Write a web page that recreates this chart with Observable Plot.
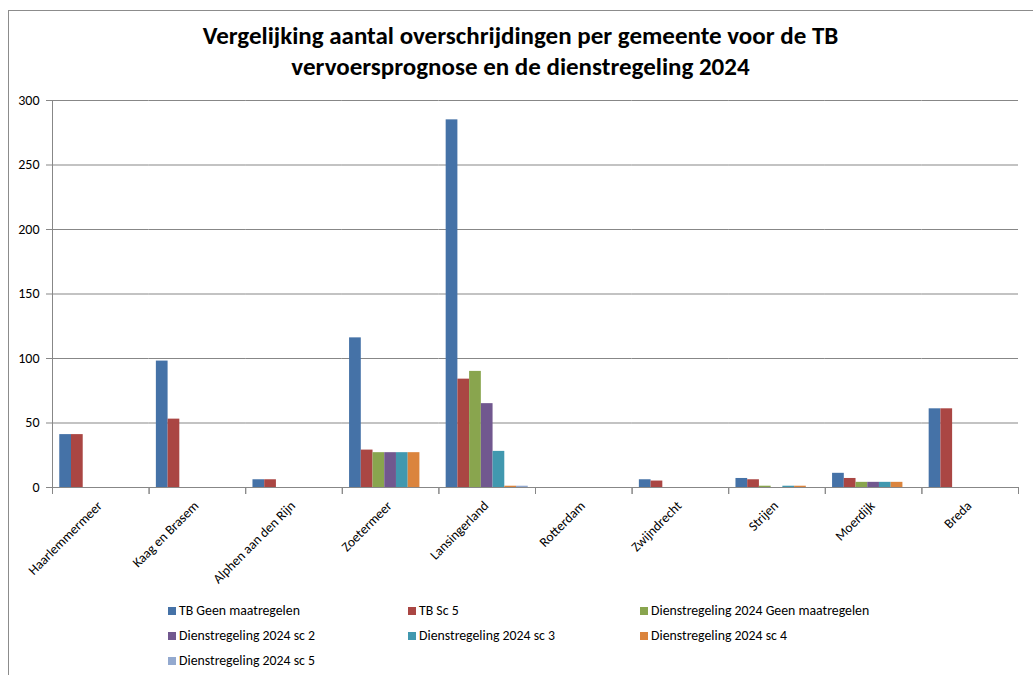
<!DOCTYPE html>
<html><head><meta charset="utf-8">
<script src="https://cdn.jsdelivr.net/npm/d3@7"></script>
<script src="https://cdn.jsdelivr.net/npm/@observablehq/plot@0.6"></script>
<style>
body{margin:0;background:#fff;font-family:Carlito,Calibri,"Liberation Sans Narrow","Liberation Sans",sans-serif;}
#wrap{position:relative;width:1033px;height:675px;overflow:hidden;}
#border{position:absolute;left:8px;top:10px;width:1100px;height:700px;border:1px solid #8c8c8c;box-sizing:border-box;}
#title{position:absolute;left:8px;width:1025px;top:20px;text-align:center;font-weight:bold;font-size:25px;line-height:31px;color:#000;}
#chart{position:absolute;left:0;top:90px;}
#legend{position:absolute;left:168px;top:598px;display:grid;grid-template-columns:240px 232px 260px;grid-auto-rows:25px;font-size:13.8px;color:#000;}
.item{display:flex;align-items:center;white-space:nowrap;}
.sw{width:8px;height:8px;margin-right:3px;flex:none;}
</style></head>
<body>
<div id="wrap">
<div id="border"></div>
<div id="title">Vergelijking aantal overschrijdingen per gemeente voor de TB<br>vervoersprognose en de dienstregeling 2024</div>
<div id="chart"></div>
<div id="legend"></div>
</div>
<script>
const categories = ["Haarlemmermeer","Kaag en Brasem","Alphen aan den Rijn","Zoetermeer","Lansingerland","Rotterdam","Zwijndrecht","Strijen","Moerdijk","Breda"];
const series = ["TB Geen maatregelen","TB Sc 5","Dienstregeling 2024 Geen maatregelen","Dienstregeling 2024 sc 2","Dienstregeling 2024 sc 3","Dienstregeling 2024 sc 4","Dienstregeling 2024 sc 5"];
const colors = ["#4572A7","#AA4643","#89A54E","#71588F","#4198AF","#DB843D","#93A9CF"];
const tbGeen = [41, 98, 6, 116, 285, 0, 6, 7, 11, 61];
const tbSc5  = [41, 53, 6, 29, 84, 0, 5, 6, 7, 61];
const dGeen  = [0, 0, 0, 27, 90, 0, 0, 1, 4, 0];
const dSc2   = [0, 0, 0, 27, 65, 0, 0, 0, 4, 0];
const dSc3   = [0, 0, 0, 27, 28, 0, 0, 1, 4, 0];
const dSc4   = [0, 0, 0, 27, 1, 0, 0, 1, 4, 0];
const dSc5   = [0, 0, 0, 0, 1, 0, 0, 0, 0, 0];
const yTicks = [0, 50, 100, 150, 200, 250, 300];

const valueSets = [tbGeen, tbSc5, dGeen, dSc2, dSc3, dSc4, dSc5];
const data = [];
series.forEach((s, si) => categories.forEach((c, ci) => data.push({cat: c, series: s, value: valueSets[si][ci]})));

const font = 'Carlito, Calibri, "Liberation Sans Narrow", "Liberation Sans", sans-serif';
const chart = Plot.plot({
  width: 1033, height: 505,
  marginTop: 10, marginLeft: 52, marginRight: 15, marginBottom: 108,
  style: {fontFamily: font, fontSize: "13px", color: "#000", background: "transparent", overflow: "visible"},
  fx: {domain: categories, paddingInner: 0, paddingOuter: 0, round: false, axis: null, label: null},
  x: {domain: series, paddingInner: 0, paddingOuter: 0.62, round: false, axis: null},
  y: {domain: [0, 300], axis: null, label: null},
  color: {domain: series, range: colors},
  marks: [
    Plot.gridY(yTicks, {stroke: "#878787", strokeOpacity: 1}),
    Plot.barY(data, {fx: "cat", x: "series", y: "value", fill: "series", insetLeft: 0, insetRight: 0}),
    Plot.ruleY([0], {stroke: "#878787"}),
    Plot.frame({anchor: "left", facet: "super", stroke: "#878787"}),
    Plot.frame({anchor: "left", insetTop: 387, insetBottom: -6, stroke: "#878787"}),
    Plot.frame({anchor: "right", insetTop: 387, insetBottom: -6, stroke: "#878787"}),
    Plot.axisY(yTicks, {tickSize: 6, tickPadding: 7, stroke: "#878787", fontSize: 14, fill: "#000"}),
    Plot.axisFx({anchor: "bottom", tickRotate: -45, tickSize: 0, tickPadding: 16, dx: -1, fontSize: 13.5, fill: "#000"})
  ]
});
document.getElementById("chart").appendChild(chart);

const legend = document.getElementById("legend");
series.forEach((s, i) => {
  const it = document.createElement("div");
  it.className = "item";
  const sw = document.createElement("span");
  sw.className = "sw";
  sw.style.background = colors[i];
  it.appendChild(sw);
  it.appendChild(document.createTextNode(s));
  legend.appendChild(it);
});
</script>
</body></html>
